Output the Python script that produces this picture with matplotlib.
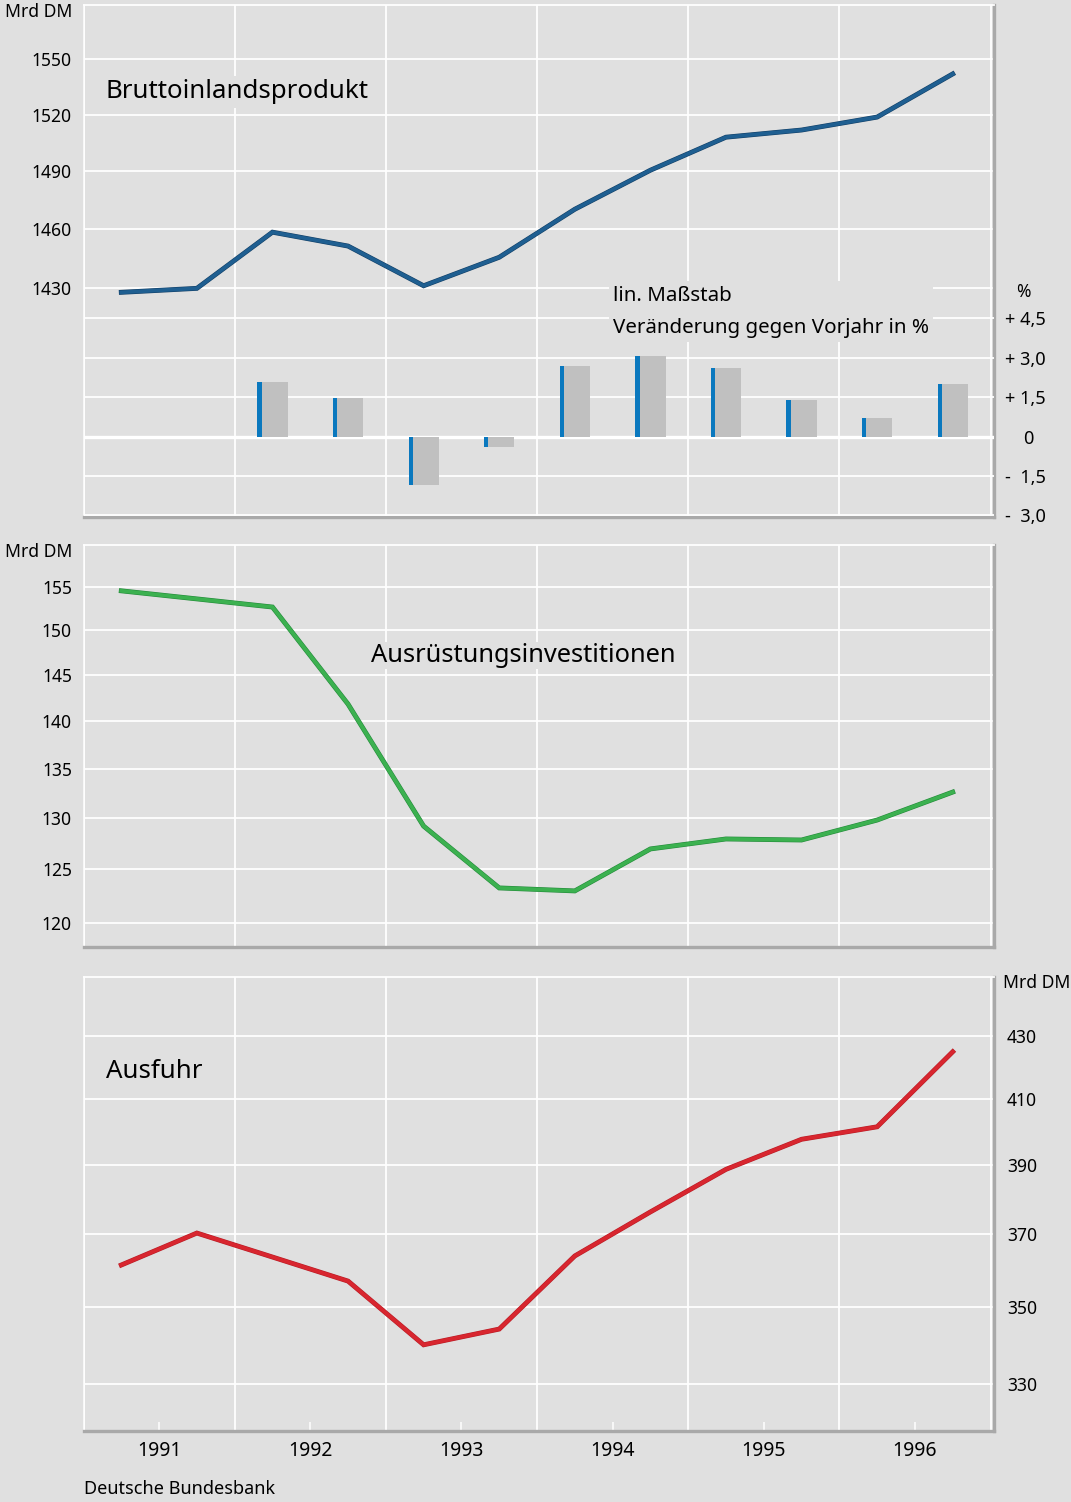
import numpy as np
import matplotlib
matplotlib.use('Agg')
import matplotlib.pyplot as plt
import matplotlib.patheffects as pe
from matplotlib.ticker import NullLocator, NullFormatter, FixedLocator
from matplotlib.transforms import blended_transform_factory

# Halbjahreswerte 1991 H1 ... 1996 H2 (saisonbereinigt, Mrd DM)
halbjahre = np.arange(1991.25, 1997.0, 0.5)
jahre = [1991, 1992, 1993, 1994, 1995, 1996]

bip = [1428.0, 1430.0, 1458.5, 1451.4, 1431.3, 1445.7,
       1470.3, 1490.6, 1508.0, 1511.8, 1518.7, 1541.9]
bip_vorjahr = [np.nan, np.nan, 2.08, 1.48, -1.84, -0.40,
               2.68, 3.08, 2.59, 1.40, 0.70, 2.00]
investitionen = [154.6, 153.65, 152.7, 141.8, 129.2, 123.25,
                 122.97, 126.97, 127.94, 127.84, 129.8, 132.6]
ausfuhr = [361.3, 370.2, 363.5, 356.9, 340.0, 344.1,
           363.8, 376.2, 388.6, 397.6, 401.4, 425.0]

bip_ticks = [1430, 1460, 1490, 1520, 1550]
vj_ticks = [-3.0, -1.5, 0.0, 1.5, 3.0, 4.5]
vj_labels = ['-  3,0', '-  1,5', '    0', '+ 1,5', '+ 3,0', '+ 4,5']
inv_ticks = [120, 125, 130, 135, 140, 145, 150, 155]
aus_ticks = [330, 350, 370, 390, 410, 430]

BG = '#e0e0e0'
SPINE = '#a9a9a9'
plt.rcParams['font.family'] = ['Noto Sans', 'DejaVu Sans']

W, H = 1071, 1502
fig = plt.figure(figsize=(W / 100, H / 100), dpi=100, facecolor=BG)


def make_axes(top, bottom):
    left, right = 83.5, 994
    ax = fig.add_axes([left / W, 1 - bottom / H, (right - left) / W, (bottom - top) / H])
    ax.set_facecolor(BG)
    ax.set_axisbelow(True)
    ax.set_xlim(1991, 1997.023)
    ax.set_yscale('log')
    ax.spines['left'].set_color('white')
    ax.spines['left'].set_linewidth(1.1)
    ax.spines['top'].set_color('white')
    ax.spines['top'].set_linewidth(1.3)
    for s in ('right', 'bottom'):
        ax.spines[s].set_color(SPINE)
        ax.spines[s].set_linewidth(2.4)
    ax.xaxis.set_major_locator(FixedLocator(list(range(1991, 1998))))
    ax.xaxis.set_major_formatter(NullFormatter())
    ax.xaxis.set_minor_locator(FixedLocator([j + 0.5 for j in jahre]))
    ax.xaxis.set_minor_formatter(NullFormatter())
    ax.tick_params(axis='x', which='both', length=0)
    ax.grid(True, axis='both', which='major', color='white', lw=1.3)
    return ax


def set_log_ticks(ax, ticks, lo, hi):
    ax.set_ylim(lo, hi)
    ax.yaxis.set_major_locator(FixedLocator(ticks))
    ax.set_yticklabels([str(t) for t in ticks])
    ax.yaxis.set_minor_locator(NullLocator())
    ax.yaxis.set_minor_formatter(NullFormatter())
    ax.tick_params(axis='y', length=0, labelsize=12.6, pad=8.3)


def draw_line(ax, values, color, edge):
    ax.plot(halbjahre, values, color=color, lw=2.7, solid_joinstyle='miter',
            path_effects=[pe.Stroke(linewidth=3.5, foreground=edge), pe.Normal()], zorder=4)


box = dict(facecolor=BG, edgecolor='none', pad=2.5)

# --- Bruttoinlandsprodukt ---
ax1 = make_axes(5, 517)
set_log_ticks(ax1, bip_ticks, 1319.6, 1579.7)
draw_line(ax1, bip, '#1f5f91', '#123f66')
ax1.text(0.0247, 0.818, 'Bruttoinlandsprodukt', transform=ax1.transAxes,
         fontsize=18.6, va='baseline', bbox=box)

ax1b = ax1.twinx()
ax1b.set_ylim(-3.065, 16.43)
for s in ax1b.spines.values():
    s.set_visible(False)
ax1b.yaxis.set_major_locator(FixedLocator(vj_ticks))
ax1b.set_yticklabels(vj_labels, ha='left')
ax1b.tick_params(axis='y', length=0, labelsize=13, pad=8)
ax1b.set_axisbelow(True)
ax1b.grid(True, axis='y', color='white', lw=1.3)
ax1b.axhline(0, color='white', lw=2.4, zorder=1)
ax1b.bar(halbjahre, bip_vorjahr, width=0.2, color='#c0c0c0', zorder=2)
ax1b.bar(halbjahre - 0.1, bip_vorjahr, width=0.028, align='edge', color='#0a78be', zorder=3)
ax1b.text(0.5816, 0.452, 'lin. Maßstab\nVeränderung gegen Vorjahr in %',
          transform=ax1b.transAxes, fontsize=14.8, va='top', linespacing=1.8,
          bbox=dict(facecolor=BG, edgecolor='none', pad=3))
trans = blended_transform_factory(ax1b.transAxes, ax1b.transData)
ax1b.text(1.0318, 5.5, '%', transform=trans, fontsize=12.5, ha='center', va='center')

# --- Ausrüstungsinvestitionen ---
ax2 = make_axes(545, 947)
set_log_ticks(ax2, inv_ticks, 117.82, 160.1)
draw_line(ax2, investitionen, '#3cb150', '#238a3a')
ax2.text((371 - 83.5) / 910.5, (947 - 662) / 402, 'Ausrüstungsinvestitionen',
         transform=ax2.transAxes, fontsize=18.3, va='baseline',
         bbox=dict(facecolor=BG, edgecolor='none', pad=1))

# --- Ausfuhr ---
ax3 = make_axes(977, 1431)
set_log_ticks(ax3, aus_ticks, 318.4, 449.9)
ax3.yaxis.tick_right()
ax3.tick_params(axis='y', length=0, labelsize=12.6, pad=9.4)
draw_line(ax3, ausfuhr, '#d8262f', '#b81c25')
ax3.text(0.0247, (1431 - 1078) / 454, 'Ausfuhr', transform=ax3.transAxes,
         fontsize=18.6, va='baseline')
ax3.xaxis.set_minor_formatter(plt.FixedFormatter([str(j) for j in jahre]))
ax3.tick_params(axis='x', which='minor', direction='in', length=6.5, width=1.1,
                color='white', labelsize=14, pad=7)

fig.text(72 / W, 1 - 12 / H, 'Mrd DM', fontsize=12.6, ha='right', va='center')
fig.text(72 / W, 1 - 552 / H, 'Mrd DM', fontsize=12.6, ha='right', va='center')
fig.text(1003 / W, 1 - 983 / H, 'Mrd DM', fontsize=12.6, ha='left', va='center')
fig.text(84 / W, 1 - 1494 / H, 'Deutsche Bundesbank', fontsize=13, va='baseline')

fig.savefig('out.png', dpi=100, facecolor=BG)
